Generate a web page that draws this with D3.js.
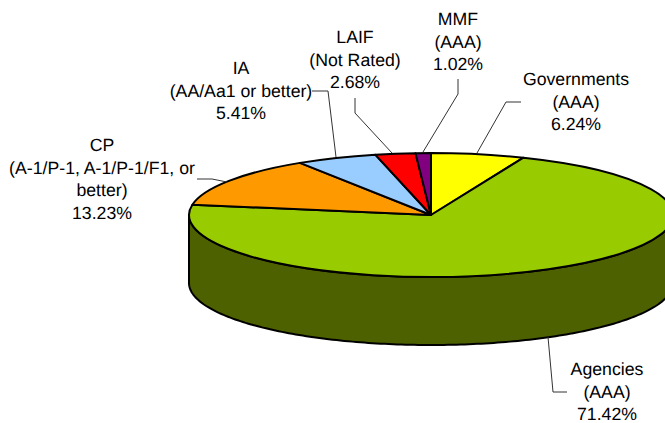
<!DOCTYPE html>
<html>
<head>
<meta charset="utf-8">
<script src="https://cdn.jsdelivr.net/npm/d3@7"></script>
<style>
  html, body { margin: 0; padding: 0; background: #fff; overflow: hidden; }
  text { font-family: "Liberation Sans", Arial, sans-serif; font-size: 17.7px; fill: #000; text-rendering: geometricPrecision; }
</style>
</head>
<body>
<div id="chart"></div>
<script>
// Chart data, clockwise from 12 o'clock
const categories = ['Governments', 'Agencies', 'CP', 'IA', 'LAIF', 'MMF'];
const ratings = ['(AAA)', '(AAA)', '(A-1/P-1, A-1/P-1/F1, or|better)', '(AA/Aa1 or better)', '(Not Rated)', '(AAA)'];
const shares = [6.24, 71.42, 13.23, 5.41, 2.68, 1.02];
const colors = ['#ffff00', '#99cc00', '#ff9900', '#99ccff', '#ff0000', '#800080'];
const wallColor = '#4d6100';

// Where each label sits and how its leader line runs
const labelPos = [[576, 85], [607, 375], [102, 151], [241, 74], [355, 43], [458, 25]];
const leaders = [
  [[521, 102], [506, 102], [477, 153]],
  [[548, 337], [553, 392], [567, 392]],
  [[197, 179], [212, 179], [227, 182]],
  [[312, 91], [328, 91], [336, 157]],
  [[355, 98], [355, 113], [392, 153]],
  [[458, 79], [458, 94], [423, 152]]
];

const width = 665, height = 423;
const cx = 431, cy = 215, rx = 242, ry = 62, depth = 68;

const svg = d3.select('#chart').append('svg')
  .attr('width', width)
  .attr('height', height)
  .style('display', 'block');

const pie = d3.pie().sort(null).value(d => d)(shares);
const arc = d3.arc().innerRadius(0).outerRadius(rx);

// Side wall: front half of the ellipse, pushed down by the depth
const wallAngles = d3.range(90, 270.5, 1).map(d => d * Math.PI / 180);
const ellipseX = a => cx + rx * Math.sin(a);
const ellipseY = a => cy - ry * Math.cos(a);
const wallPts = wallAngles.map(a => [ellipseX(a), ellipseY(a)])
  .concat(wallAngles.slice().reverse().map(a => [ellipseX(a), ellipseY(a) + depth]));

svg.append('path')
  .attr('d', d3.line()(wallPts) + 'Z')
  .attr('fill', wallColor)
  .attr('stroke', '#000')
  .attr('stroke-width', 2)
  .attr('stroke-linejoin', 'round');

// Top of the pie: a normal d3 arc squashed into an ellipse
svg.append('g')
  .attr('transform', `translate(${cx},${cy}) scale(1,${ry / rx})`)
  .selectAll('path')
  .data(pie)
  .enter().append('path')
  .attr('d', arc)
  .attr('fill', (d, i) => colors[i])
  .attr('stroke', '#000')
  .attr('stroke-width', 2)
  .attr('stroke-linejoin', 'round')
  .attr('vector-effect', 'non-scaling-stroke');

// Leader lines
svg.append('g').selectAll('path')
  .data(leaders)
  .enter().append('path')
  .attr('d', d => d3.line()(d))
  .attr('fill', 'none')
  .attr('stroke', '#333')
  .attr('stroke-width', 1);

// Labels
const labels = svg.append('g').selectAll('text')
  .data(categories)
  .enter().append('text')
  .attr('text-anchor', 'middle')
  .attr('x', (d, i) => labelPos[i][0])
  .attr('y', (d, i) => labelPos[i][1]);

labels.each(function(d, i) {
  const lines = [d].concat(ratings[i].split('|'), shares[i].toFixed(2) + '%');
  d3.select(this).selectAll('tspan')
    .data(lines)
    .enter().append('tspan')
    .attr('x', labelPos[i][0])
    .attr('dy', (l, j) => j ? 22.6 : 0)
    .text(l => l);
});
</script>
</body>
</html>
